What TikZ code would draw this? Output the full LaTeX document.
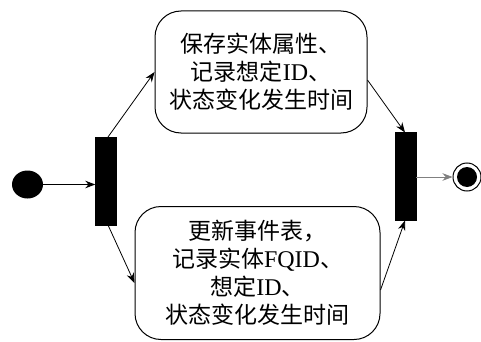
\documentclass[tikz,border=0pt]{standalone}
\usepackage{fontspec}
\setmainfont{Liberation Serif}
\newfontfamily\cjk{Noto Sans CJK SC}
\newcommand{\lat}[1]{{\rmfamily\fontsize{24}{28}\selectfont #1}}
\usetikzlibrary{arrows.meta,shapes.geometric}
\begin{document}
\begin{tikzpicture}[x=1pt,y=-1pt,
  act/.style={draw,line width=1pt,rounded corners=26pt,align=center,inner sep=0pt,
    font=\fontsize{23}{28}\selectfont},
  bar/.style={fill=black,draw=black,minimum width=21pt,minimum height=88pt,inner sep=0pt},
  arr/.style={line width=0.8pt,-{Stealth[length=10pt,width=7.5pt]}}]
\useasboundingbox (0,0) rectangle (481,342);
\node[fill=black,ellipse,minimum width=31pt,minimum height=28pt,inner sep=0pt] (start) at (27.5,184.5) {};
\node[bar] (f1) at (106,181) {};
\node[bar] (f2) at (405.5,176.5) {};
\node[act,minimum width=212pt,minimum height=122pt] (a1) at (261,72) {\cjk 保存实体属性、\\ \cjk 记录想定\lat{ID}、\\ \cjk 状态变化发生时间};
\node[act,minimum width=245pt,minimum height=133pt] (a2) at (257.5,273) {\cjk 更新事件表，\\ \cjk 记录实体\lat{FQID}、\\ \cjk 想定\lat{ID}、\\ \cjk 状态变化发生时间};
\node[circle,draw,line width=1pt,minimum size=28pt,inner sep=0pt] (end) at (467,177) {};
\node[circle,fill=black,minimum size=20pt,inner sep=0pt] (endin) at (end) {};
\draw[arr] (start) -- (f1.west |- start);
\draw[arr] (108,137) -- (a1.west |- 0,72);
\draw[arr] (108,225) -- (a2.west |- 0,283);
\draw[arr] (a1.east |- 0,80) -- (405,132.5);
\draw[arr] (a2.east |- 0,290) -- (405,220.5);
\draw[-{Stealth[length=10pt,width=7.5pt]},draw=gray,line width=0.6pt] (f2.east |- end) -- (end.west);
\end{tikzpicture}
\end{document}
